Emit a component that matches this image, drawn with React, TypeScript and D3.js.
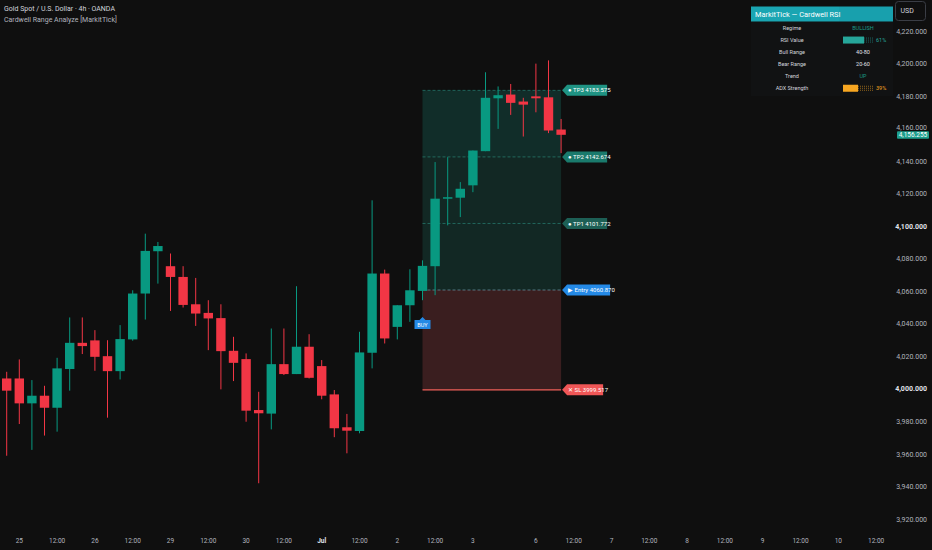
import React from 'react';
import * as d3 from 'd3';

// OHLC of the visible 4h candles (XAUUSD, OANDA)
const opens = [
  4006.5, 4006.5, 3991.2, 3995.9, 3988.5, 4012.3, 4028.4, 4029.9, 4020.2, 4011,
  4030.5, 4058.7, 4084.7, 4075.5, 4068.9, 4052.1, 4046.8, 4043.6, 4023.5, 4018.4,
  3987.1, 3984.9, 4015.3, 4009.2, 4026, 4014.1, 3996.7, 3976.5, 3974.2, 4022.3,
  4071, 4038.2, 4051.5, 4060.3, 4075.5, 4117, 4117.6, 4125.2, 4146.2, 4178.7,
  4181, 4176.7, 4179.9, 4179.3, 4159.5,
];
const highs = [
  4010.6, 4018.2, 4005.5, 4002, 4019.2, 4044, 4044, 4036.2, 4030, 4039.3,
  4060.7, 4095.5, 4090.4, 4083.3, 4075.5, 4068.3, 4054.6, 4052.1, 4032.1, 4021.9,
  3998.3, 4037.2, 4037.2, 4063.2, 4033.7, 4017.8, 3999.4, 3984.7, 4035.2, 4116,
  4073.4, 4051.5, 4073.6, 4079.1, 4139.5, 4142.5, 4127.2, 4146.6, 4194.7, 4186,
  4187.5, 4179, 4200, 4202, 4166,
];
const lows = [
  3959, 3978.5, 3962.6, 3971.4, 3973.8, 3999, 4021.5, 4011.2, 3982.4, 4005.9,
  4029.7, 4042.7, 4064.8, 4048, 4050.1, 4038.8, 4023.9, 3999.8, 4004.9, 3979.9,
  3942.1, 3975.2, 4008.6, 4009.2, 4006.5, 3993.7, 3970.4, 3960.5, 3972.8, 4012.7,
  4028, 4030.5, 4041.3, 4054.6, 4057.7, 4100.6, 4105.7, 4121, 4146.2, 4159.9,
  4168.5, 4155.2, 4170.1, 4157.3, 4145,
];
const closes = [
  3999, 3991.2, 3995.9, 3988.5, 4012.7, 4028.4, 4026.4, 4019.8, 4011, 4030.7,
  4058.7, 4084.9, 4087.9, 4068.9, 4051.7, 4046.4, 4043.4, 4023.3, 4016.1, 3986.7,
  3985.1, 4015.3, 4009.2, 4026, 4006.9, 3995.9, 3975.9, 3974.4, 4022.5, 4071,
  4031.1, 4051.5, 4060.7, 4075.7, 4117, 4117.9, 4123.1, 4146.6, 4179, 4180.6,
  4175.9, 4174.8, 4178.7, 4158.9, 4156.255,
];

// time axis (bar index of each label)
const timeTickBars = [1, 4, 7, 10, 13, 16, 19, 22, 25, 28, 31, 34, 37, 42, 45, 48, 51, 54, 57, 60, 63, 66, 69];
const timeTickLabels = ['25', '12:00', '26', '12:00', '29', '12:00', '30', '12:00', 'Jul', '12:00', '2', '12:00', '3', '6', '12:00', '7', '12:00', '8', '12:00', '9', '12:00', '10', '12:00'];
const boldTimeLabels = ['Jul'];

const priceTicks = d3.range(3920, 4221, 20);
const boldPrices = [4000, 4100];

// trade setup
const entryBar = 33;
const endBar = 44;
const entryPrice = 4060.87;
const stopPrice = 3999.517;
const targetNames = ['TP1', 'TP2', 'TP3'];
const targetPrices = [4101.772, 4142.674, 4183.575];
const lastPrice = 4156.255;

// info table
const tableLabels = ['Regime', 'RSI Value', 'Bull Range', 'Bear Range', 'Trend', 'ADX Strength'];
const tableValues = ['BULLISH', '61%', '40-80', '20-60', 'UP', '39%'];
const rsiValue = 61;
const adxValue = 39;

const BG = '#0f0f0f';
const UP = '#089981';
const DOWN = '#f23645';
const FONT = '"Liberation Sans Narrow", Roboto, sans-serif';

const W = 932;
const H = 550;

export default function App() {
  const x = d3.scaleLinear().domain([0, 70]).range([6.7, 6.7 + 12.6 * 70]);
  const y = d3.scaleLinear().domain([3920, 4220]).range([519.2, 31.1]);
  const bodyW = 9.4;
  const fmt = d3.format(',.3f');
  const fmtTag = d3.format('.3f');

  const candles = d3.range(opens.length).map(i => ({
    i, o: opens[i], h: highs[i], l: lows[i], c: closes[i],
  }));

  const boxL = x(entryBar);
  const boxR = x(endBar);
  const tagX = boxR + 1;

  const tag = (price: number, text: string, fill: string, w: number, key: string) => {
    const yc = y(price);
    const p = d3.path();
    p.moveTo(tagX, yc);
    p.lineTo(tagX + 5, yc - 5.5);
    p.lineTo(tagX + w, yc - 5.5);
    p.lineTo(tagX + w, yc + 5.5);
    p.lineTo(tagX + 5, yc + 5.5);
    p.closePath();
    return (
      <g key={key}>
        <path d={p.toString()} fill={fill} />
        <text x={tagX + 6} y={yc} dy="0.35em" fontSize={6} fill="#ffffff">{text}</text>
      </g>
    );
  };

  const tagFills = ['#1d5f55', '#1a7a6c', '#1f9383'];

  // table geometry
  const tX = 751;
  const tW = 142;
  const rowY = (k: number) => 28 + k * 12.05;
  const barX = 843;
  const barW = 30;

  const buyX = x(entryBar);
  const buyPath = d3.path();
  buyPath.moveTo(buyX, 317);
  buyPath.lineTo(buyX + 3, 320);
  buyPath.lineTo(buyX + 8, 320);
  buyPath.lineTo(buyX + 8, 329);
  buyPath.lineTo(buyX - 8, 329);
  buyPath.lineTo(buyX - 8, 320);
  buyPath.lineTo(buyX - 3, 320);
  buyPath.closePath();

  return (
    <div style={{ position: 'absolute', left: 0, top: 0, width: W, height: H, background: BG }}>
      <svg width={W} height={H} style={{ display: 'block', fontFamily: FONT }}>
        <rect width={W} height={H} fill={BG} />

        {/* trade zones */}
        <rect x={boxL} y={y(targetPrices[2])} width={boxR - boxL} height={y(entryPrice) - y(targetPrices[2])} fill="#122824" />
        <rect x={boxL} y={y(targetPrices[2])} width={boxR - boxL} height={y(targetPrices[1]) - y(targetPrices[2])} fill="#089981" opacity={0.05} />
        <rect x={boxL} y={y(entryPrice)} width={boxR - boxL} height={y(stopPrice) - y(entryPrice)} fill="#3a1e1f" />

        {targetPrices.map((tp, k) => (
          <line key={k} x1={boxL} x2={boxR} y1={y(tp)} y2={y(tp)} stroke="#2a8a7c" strokeOpacity={0.8} strokeWidth={0.8} strokeDasharray="3,2" />
        ))}
        <line x1={boxL} x2={boxR} y1={y(entryPrice)} y2={y(entryPrice)} stroke="#5f8a9a" strokeWidth={0.8} strokeDasharray="3,2" />
        <line x1={boxL} x2={boxR} y1={y(stopPrice)} y2={y(stopPrice)} stroke="#f0605a" strokeWidth={1.2} />

        {/* candles */}
        {candles.map(d => {
          const col = d.c >= d.o ? UP : DOWN;
          const top = y(Math.max(d.o, d.c));
          const bot = y(Math.min(d.o, d.c));
          return (
            <g key={d.i}>
              <line x1={x(d.i)} x2={x(d.i)} y1={y(d.h)} y2={y(d.l)} stroke={col} strokeWidth={1} />
              <rect x={x(d.i) - bodyW / 2} y={top} width={bodyW} height={Math.max(bot - top, 1.5)} fill={col} />
            </g>
          );
        })}

        {/* tags */}
        {targetPrices.map((tp, k) => tag(tp, `\u25CF ${targetNames[k]} ${fmtTag(tp)}`, tagFills[k], 45, `tp${k}`))}
        {tag(entryPrice, `\u25B6 Entry ${fmtTag(entryPrice)}`, '#2489e6', 48, 'entry')}
        {tag(stopPrice, `\u2715 SL ${fmtTag(stopPrice)}`, '#ef5656', 41, 'sl')}

        {/* BUY marker */}
        <path d={buyPath.toString()} fill="#2489e6" />
        <text x={buyX} y={324.8} dy="0.35em" textAnchor="middle" fontSize={5.5} fill="#ffffff">BUY</text>

        {/* price axis */}
        {priceTicks.map(v => (
          <text key={v} x={927} y={v === 4160 ? y(v) - 1 : y(v)} dy="0.35em" textAnchor="end" fontSize={7}
            fill={boldPrices.includes(v) ? '#e0e3eb' : '#b2b5be'} fontWeight={boldPrices.includes(v) ? 700 : 400}>
            {fmt(v)}
          </text>
        ))}
        <rect x={897} y={y(lastPrice) - 3.6} width={32} height={7.6} rx={1} fill="#1c9e8c" />
        <text x={913} y={y(lastPrice)} dy="0.35em" textAnchor="middle" fontSize={6.5} fill="#ffffff">{fmt(lastPrice)}</text>

        {/* time axis */}
        {timeTickBars.map((b, k) => (
          <text key={k} x={x(b)} y={541} dy="0.35em" textAnchor="middle" fontSize={6.5}
            fill={boldTimeLabels.includes(timeTickLabels[k]) ? '#e0e3eb' : '#b2b5be'}
            fontWeight={boldTimeLabels.includes(timeTickLabels[k]) ? 700 : 400}>
            {timeTickLabels[k]}
          </text>
        ))}

        {/* legend */}
        <text x={4} y={9} dy="0.35em" fontSize={7} fill="#d1d4dc">Gold Spot / U.S. Dollar · 4h · OANDA</text>
        <text x={4} y={20} dy="0.35em" fontSize={7} fill="#b2b5be">Cardwell Range Analyze [MarkitTick]</text>

        {/* USD button */}
        <rect x={895.5} y={1.5} width={30} height={19} rx={3} fill="none" stroke="#3a3d45" />
        <text x={900.5} y={11} dy="0.35em" fontSize={7} fill="#d1d4dc">USD</text>

        {/* info table */}
        <rect x={tX} y={22} width={tW} height={74} fill="#111213" />
        <rect x={tX} y={6.5} width={88} height={15} fill="#1aa5b2" />
        <rect x={tX + 88} y={6.5} width={tW - 88} height={15} fill="#18a0ad" />
        <text x={tX + 4} y={14} dy="0.35em" fontSize={7.4} fill="#ffffff">MarkitTick — Cardwell RSI</text>
        {tableLabels.map((lab, k) => (
          <text key={lab} x={792} y={rowY(k)} dy="0.35em" textAnchor="middle" fontSize={5.5} fill="#d1d4dc">{lab}</text>
        ))}
        {tableValues.map((val, k) => {
          const yy = rowY(k);
          if (k === 1 || k === 5) {
            const pct = k === 1 ? rsiValue : adxValue;
            const col = k === 1 ? '#26a69a' : '#f7a621';
            const fillW = barW * (Math.round(pct / 10) / 10 + 0.1);
            return (
              <g key={k}>
                <rect x={barX} y={yy - 3.5} width={fillW} height={7} fill={col} />
                <line x1={barX + fillW} x2={barX + barW} y1={yy - 2} y2={yy - 2} stroke={col} strokeOpacity={0.7} strokeWidth={0.8} strokeDasharray="1,1" />
                <line x1={barX + fillW} x2={barX + barW} y1={yy} y2={yy} stroke={col} strokeOpacity={0.7} strokeWidth={0.8} strokeDasharray="1,1" />
                <line x1={barX + fillW} x2={barX + barW} y1={yy + 2} y2={yy + 2} stroke={col} strokeOpacity={0.7} strokeWidth={0.8} strokeDasharray="1,1" />
                <text x={barX + barW + 3} y={yy} dy="0.35em" fontSize={5.5} fill={col}>{val}</text>
              </g>
            );
          }
          const col = val === 'BULLISH' || val === 'UP' ? '#1a9a86' : '#e0e3eb';
          return (
            <text key={k} x={863} y={yy} dy="0.35em" textAnchor="middle" fontSize={5.5} fill={col}>{val}</text>
          );
        })}
      </svg>
    </div>
  );
}
